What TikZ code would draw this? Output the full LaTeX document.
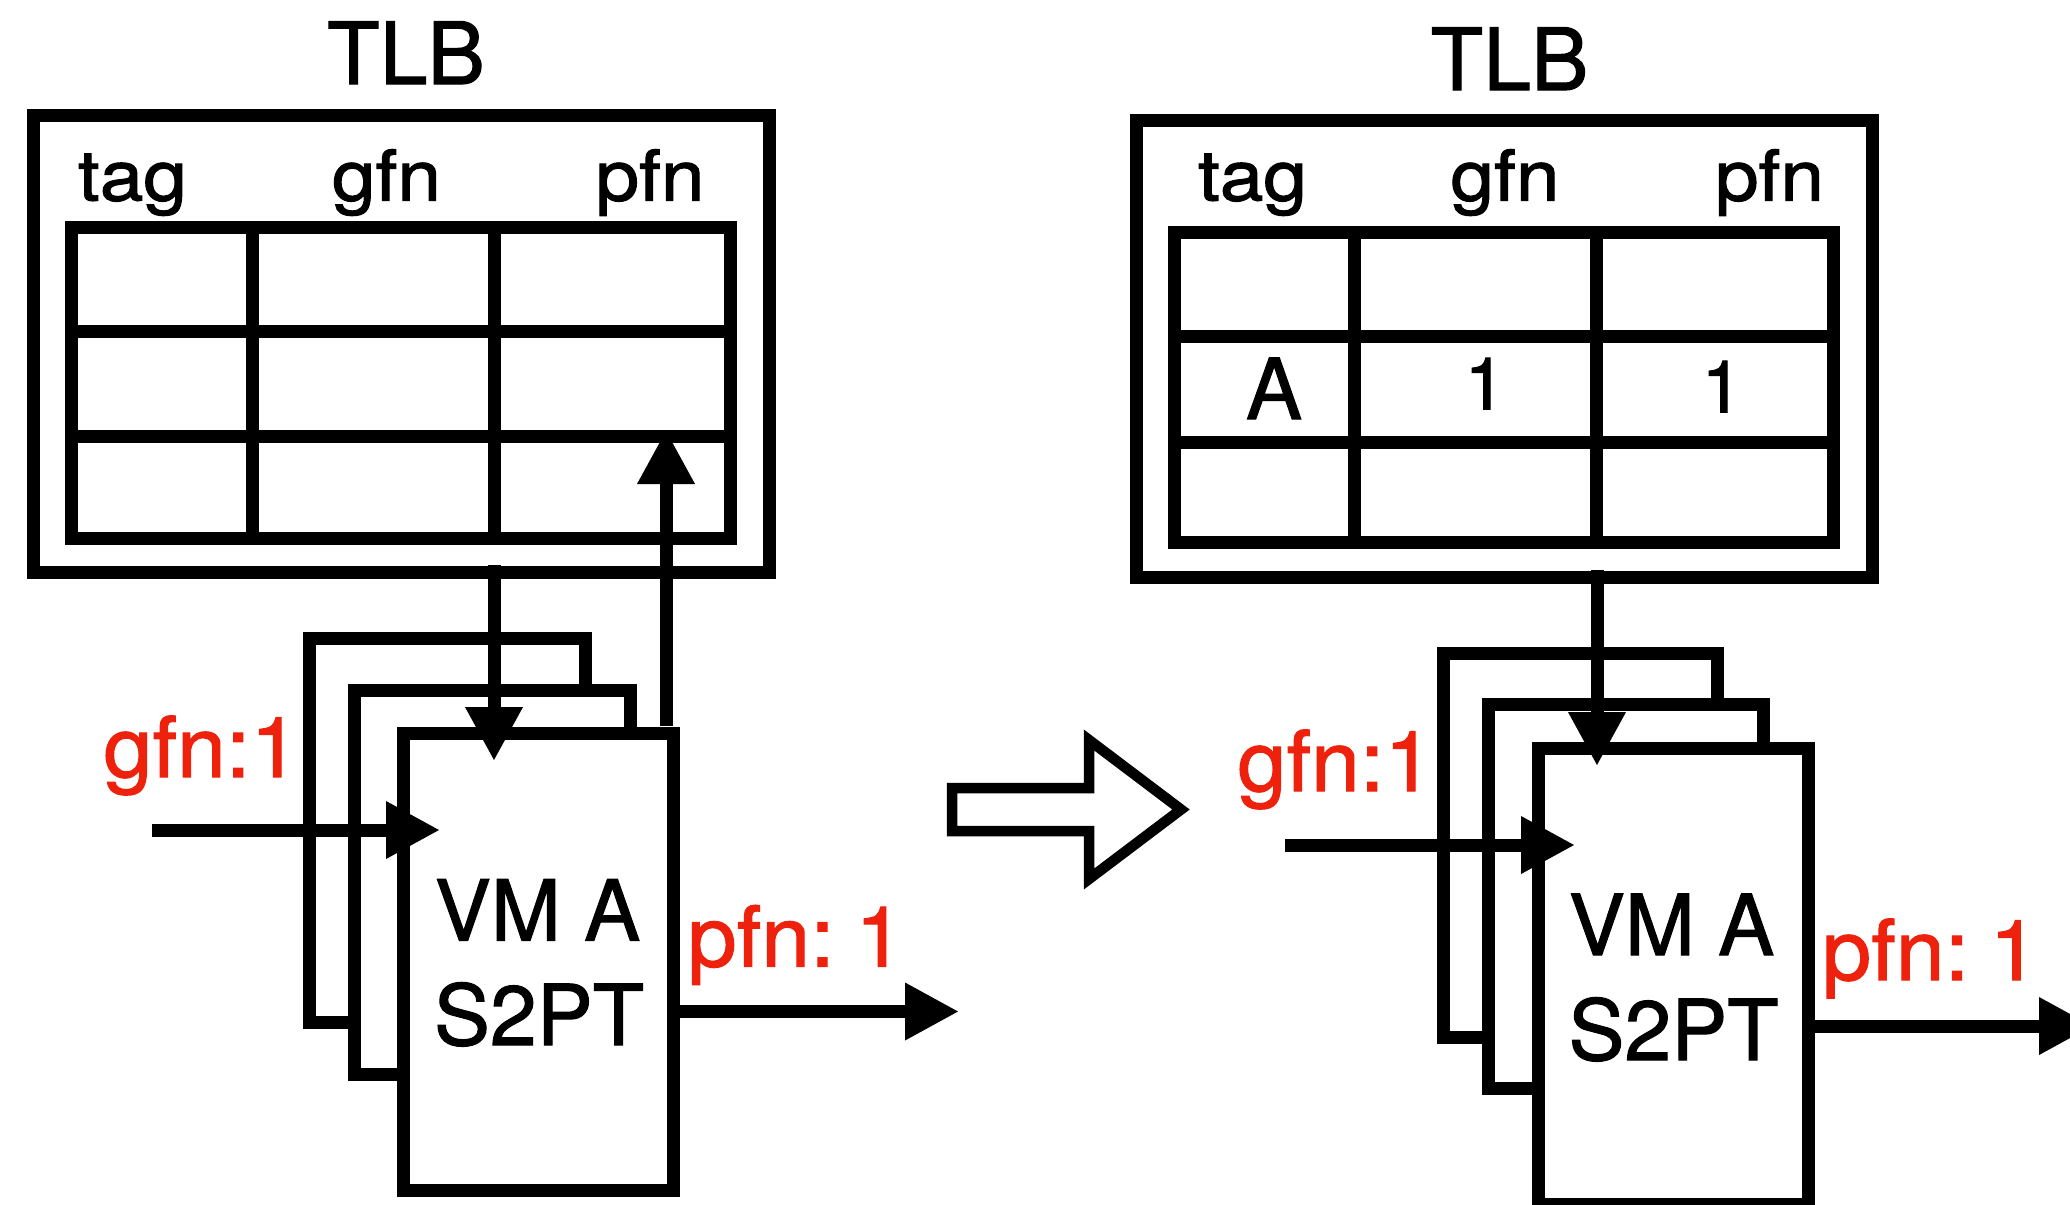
\documentclass[tikz,border=0pt]{standalone}
\usepackage{fontspec}
\setmainfont{TeX Gyre Heros}[FakeBold=1.3]
\newfontfamily\hdrf{TeX Gyre Heros}[FakeStretch=1.12,FakeBold=1.6]
\newfontfamily\redf{TeX Gyre Heros}[FakeStretch=1.05,FakeBold=1.3]
\usetikzlibrary{arrows.meta}
\definecolor{lblred}{RGB}{238,34,12}
\tikzset{
  frame/.style={draw=black, line width=13pt, inner sep=0pt, outer sep=0pt, rectangle},
  vmbox/.style={frame, fill=white},
  txt/.style={inner sep=0pt, outer sep=0pt, anchor=base},
  bigtxt/.style={txt, font=\fontsize{84}{100}\selectfont},
  titletxt/.style={txt, font=\fontsize{86}{100}\selectfont},
  numtxt/.style={txt, font=\fontsize{73}{88}\selectfont},
  hdr/.style={txt, font=\hdrf\fontsize{70}{84}\selectfont},
  redtxt/.style={txt, text=lblred, font=\redf\fontsize{84}{100}\selectfont},
  conn/.style={line width=13pt, -{Triangle[length=54pt,width=54pt]}},
  gridline/.style={line width=13pt},
  hollow/.style={line width=10.5pt, line join=miter},
}
\begin{document}
\begin{tikzpicture}[x=1pt,y=-1pt]
\useasboundingbox (0,0) rectangle (2070,1205);
\clip (0,0) rectangle (2070,1205);

% ---------------- left TLB ----------------
\node[frame, minimum width=736pt, minimum height=457pt] (ltlb) at (401,343.5) {};
\node[frame, minimum width=659pt, minimum height=311pt] (ltab) at (401.25,382.5) {};
\draw[gridline] (71.5,331) -- (731,331);
\draw[gridline] (71.5,436) -- (731,436);
\draw[gridline] (252,227) -- (252,538);
\draw[gridline] (494,227) -- (494,538);
\node[titletxt] (ltitle) at (406,84) {TLB};
\node[hdr] (ltag) at (132.5,200.5) {tag};
\node[hdr] (lgfn) at (386.5,200.5) {gfn};
\node[hdr] (lpfn) at (650,200.5) {pfn};

% ---------------- right TLB ----------------
\node[frame, minimum width=736pt, minimum height=457pt] (rtlb) at (1504,348.5) {};
\node[frame, minimum width=659pt, minimum height=310pt] (rtab) at (1503.5,387.5) {};
\draw[gridline] (1174,336) -- (1833,336);
\draw[gridline] (1174,442) -- (1833,442);
\draw[gridline] (1354.5,232.5) -- (1354.5,542.5);
\draw[gridline] (1596.5,232.5) -- (1596.5,542.5);
\node[titletxt] (rtitle) at (1509.5,90) {TLB};
\node[hdr] (rtag) at (1252.5,200.5) {tag};
\node[hdr] (rgfn) at (1505,200.5) {gfn};
\node[hdr] (rpfn) at (1769.5,200.5) {pfn};
\node[bigtxt] (rA) at (1274,419) {A};
\node[numtxt] (rg1) at (1485,409.5) {1};
\node[numtxt] (rp1) at (1722,412.5) {1};

% ---------------- left S2PT stack ----------------
\node[vmbox, minimum width=275.5pt, minimum height=384pt] (lvm1) at (447.25,830) {};
\node[vmbox, minimum width=276pt, minimum height=384pt] (lvm2) at (492,882) {};
\node[vmbox, minimum width=269.5pt, minimum height=457pt] (lvm3) at (538.25,961.5) {};
\node[bigtxt] (lvmA) at (537.5,940.5) {VM A};
\node[bigtxt] (lvmB) at (539,1045) {S2PT};

% ---------------- right S2PT stack ----------------
\node[vmbox, minimum width=274pt, minimum height=383.5pt] (rvm1) at (1580,845.25) {};
\node[vmbox, minimum width=275pt, minimum height=384.5pt] (rvm2) at (1625.5,896.25) {};
\node[vmbox, minimum width=270pt, minimum height=456pt] (rvm3) at (1673,976) {};
\node[bigtxt] (rvmA) at (1671.5,955) {VM A};
\node[bigtxt] (rvmB) at (1673.5,1060) {S2PT};

% ---------------- connector ends ----------------
\coordinate (ld0) at (494,565);
\coordinate (ld1) at (494,761);
\coordinate (lu0) at (666,726);
\coordinate (lu1) at (666,430);
\coordinate (lg0) at (152,830);
\coordinate (lg1) at (440,830);
\coordinate (lp0) at (673,1011.5);
\coordinate (lp1) at (959,1011.5);
\coordinate (rd0) at (1597,570);
\coordinate (rd1) at (1597,766);
\coordinate (rg0) at (1285,845);
\coordinate (rg1c) at (1575,845);
\coordinate (rp0) at (1808,1026);
\coordinate (rp1c) at (2093,1026);

\draw[conn] (ld0) -- (ld1);
\draw[conn] (lu0) -- (lu1);
\draw[conn] (lg0) -- (lg1);
\draw[conn] (lp0) -- (lp1);
\draw[conn] (rd0) -- (rd1);
\draw[conn] (rg0) -- (rg1c);
\draw[conn] (rp0) -- (rp1c);

% ---------------- labels ----------------
\node[redtxt] (lgl) at (201.5,777) {gfn:1};
\node[redtxt] (lpl) at (796,966.5) {pfn:\kern-4pt\ 1};
\node[redtxt] (rgl) at (1335.5,791) {gfn:1};
\node[redtxt] (rpl) at (1930.5,980) {pfn:\kern-4pt\ 1};

% ---------------- hollow transition arrow ----------------
\draw[hollow] (952,788) -- (1089,788) -- (1089,740) -- (1181,809.5)
  -- (1089,879) -- (1089,831) -- (952,831) -- cycle;
\end{tikzpicture}
\end{document}
